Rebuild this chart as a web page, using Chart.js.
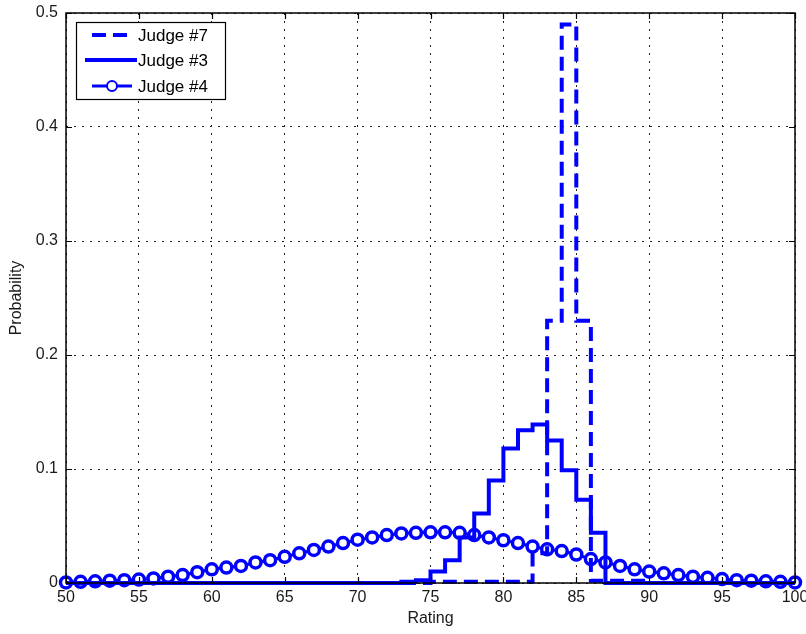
<!DOCTYPE html>
<html>
<head>
<meta charset="utf-8">
<script src="https://cdn.jsdelivr.net/npm/chart.js@4.4.0/dist/chart.umd.min.js"></script>
<style>
html,body{margin:0;padding:0;background:#fff;}
#c{display:block;}
</style>
</head>
<body>
<canvas id="c" width="806" height="634"></canvas>
<script>
const ratings = [];
for (let r = 50; r <= 100; r++) ratings.push(r);

const seriesNames = ['Judge #7', 'Judge #3', 'Judge #4'];

// Judge #7 (dashed stairs), value at rating k holds on [k, k+1)
const judge7 = [
  0,0,0,0,0,0,0,0,0,0,            // 50-59
  0,0,0,0,0,0,0,0,0,0,            // 60-69
  0,0,0,0,0,0.001,0.001,0.001,0.001,0.001, // 70-79
  0.001,0.001,0.026,0.23,0.49,0.23,0.002,0.002,0.002,0.002, // 80-89
  0,0,0,0,0,0,0,0,0,0,            // 90-99
  0                               // 100
];

// Judge #3 (solid stairs)
const judge3 = [
  0,0,0,0,0,0,0,0,0,0,            // 50-59
  0,0,0,0,0,0,0,0,0,0,            // 60-69
  0,0,0,0.001,0.0025,0.010,0.020,0.040,0.061,0.090, // 70-79
  0.118,0.134,0.139,0.125,0.099,0.073,0.044,0,0,0,  // 80-89
  0,0,0,0,0,0,0,0,0,0,            // 90-99
  0                               // 100
];

// Judge #4 (line with circle markers)
const judge4 = [
  0.0005,0.001,0.0015,0.002,0.0025,0.003,0.004,0.0055,0.007,0.0095, // 50-59
  0.012,0.0135,0.015,0.018,0.020,0.023,0.026,0.029,0.032,0.035,     // 60-69
  0.038,0.040,0.042,0.0435,0.044,0.0445,0.0445,0.044,0.042,0.040,   // 70-79
  0.0375,0.035,0.032,0.0295,0.028,0.025,0.021,0.018,0.015,0.012,    // 80-89
  0.010,0.0085,0.007,0.0055,0.0045,0.0035,0.0025,0.002,0.0015,0.001, // 90-99
  0.0005                                                             // 100
];

const xTicks = [50,55,60,65,70,75,80,85,90,95,100];
const yTicks = [0,0.1,0.2,0.3,0.4,0.5];
const xTitle = 'Rating';
const yTitle = 'Probability';

const BLUE = '#0000ff';
const FONT = '"Liberation Sans", Arial, sans-serif';

const toPts = arr => ratings.map((r, i) => ({x: r, y: arr[i]}));

const frameAndLegend = {
  id: 'frameAndLegend',
  afterDraw(chart) {
    const ctx = chart.ctx;
    const a = chart.chartArea;
    const xs = chart.scales.x, ys = chart.scales.y;
    ctx.save();
    ctx.strokeStyle = '#000';
    ctx.lineWidth = 1.5;
    ctx.setLineDash([]);
    ctx.strokeRect(a.left, a.top, a.right - a.left, a.bottom - a.top);
    ctx.lineWidth = 1.2;
    const tl = 6;
    ctx.beginPath();
    xTicks.forEach(v => {
      const px = Math.round(xs.getPixelForValue(v)) + 0.5;
      ctx.moveTo(px, a.bottom); ctx.lineTo(px, a.bottom - tl);
      ctx.moveTo(px, a.top); ctx.lineTo(px, a.top + tl);
    });
    yTicks.forEach(v => {
      const py = Math.round(ys.getPixelForValue(v)) + 0.5;
      ctx.moveTo(a.left, py); ctx.lineTo(a.left + tl, py);
      ctx.moveTo(a.right, py); ctx.lineTo(a.right - tl, py);
    });
    ctx.stroke();

    // legend
    const bx = 76, by = 22, bw = 149, bh = 77;
    ctx.fillStyle = '#fff';
    ctx.fillRect(bx, by, bw, bh);
    ctx.strokeStyle = '#000';
    ctx.lineWidth = 1.2;
    ctx.strokeRect(bx + 0.5, by + 0.5, bw, bh);
    const rows = [35, 60, 86];
    const ds = chart.data.datasets;
    ctx.font = '17px ' + FONT;
    ctx.textBaseline = 'middle';
    ctx.textAlign = 'left';
    ds.forEach((d, i) => {
      const y = rows[i];
      ctx.strokeStyle = d.borderColor;
      ctx.lineWidth = d.borderWidth;
      ctx.setLineDash(d.borderDash || []);
      ctx.beginPath();
      if (i === 0) { ctx.moveTo(92, y); ctx.lineTo(134, y); }
      else if (i === 1) { ctx.moveTo(85, y); ctx.lineTo(137, y); }
      else { ctx.moveTo(92, y); ctx.lineTo(132, y); }
      ctx.stroke();
      ctx.setLineDash([]);
      if (i === 2) {
        ctx.beginPath();
        ctx.arc(112, y, 5, 0, Math.PI * 2);
        ctx.fillStyle = '#fff';
        ctx.fill();
        ctx.lineWidth = 2;
        ctx.stroke();
      }
      ctx.fillStyle = '#000';
      ctx.fillText(d.label, 138, y + 1);
    });
    ctx.restore();
  }
};

new Chart(document.getElementById('c'), {
  type: 'line',
  data: {
    datasets: [
      {
        label: seriesNames[0],
        data: toPts(judge7),
        borderColor: BLUE,
        borderWidth: 4,
        borderDash: [14, 7],
        stepped: true,
        pointRadius: 0,
        fill: false,
        clip: false
      },
      {
        label: seriesNames[1],
        data: toPts(judge3),
        borderColor: BLUE,
        borderWidth: 4,
        stepped: true,
        pointRadius: 0,
        fill: false,
        clip: false
      },
      {
        label: seriesNames[2],
        data: toPts(judge4),
        borderColor: BLUE,
        borderWidth: 3,
        pointRadius: 5.5,
        pointBorderWidth: 3.5,
        pointBackgroundColor: '#fff',
        pointBorderColor: BLUE,
        tension: 0,
        fill: false,
        clip: false
      }
    ]
  },
  options: {
    responsive: false,
    animation: false,
    events: [],
    layout: { padding: { top: 13, right: 11, left: 0, bottom: 0 } },
    plugins: { legend: { display: false }, tooltip: { enabled: false } },
    scales: {
      x: {
        type: 'linear',
        min: 50, max: 100,
        afterBuildTicks: s => { s.ticks = xTicks.map(v => ({value: v})); },
        afterFit: s => { s.height = 51; s.paddingLeft = 0; s.paddingRight = 0; },
        ticks: {
          color: '#1a1a1a',
          font: { family: FONT, size: 16 },
          padding: 5,
          maxRotation: 0,
          autoSkip: false,
          callback: v => String(v)
        },
        grid: { color: '#222', lineWidth: 1, drawTicks: false },
        border: { display: false, dash: [2, 6] },
        title: {
          display: true, text: xTitle, color: '#1a1a1a',
          font: { family: FONT, size: 16 },
          padding: { top: 0, bottom: 6 }
        }
      },
      y: {
        type: 'linear',
        min: 0, max: 0.5,
        afterBuildTicks: s => { s.ticks = yTicks.map(v => ({value: v})); },
        afterFit: s => { s.width = 66; s.paddingTop = 0; s.paddingBottom = 0; },
        ticks: {
          color: '#1a1a1a',
          font: { family: FONT, size: 16 },
          padding: 8,
          autoSkip: false,
          callback: v => String(Math.round(v * 10) / 10)
        },
        grid: { color: '#222', lineWidth: 1, drawTicks: false },
        border: { display: false, dash: [2, 6] },
        title: {
          display: true, text: yTitle, color: '#1a1a1a',
          font: { family: FONT, size: 16 },
          padding: { top: 7, bottom: 0 }
        }
      }
    }
  },
  plugins: [frameAndLegend]
});
</script>
</body>
</html>
